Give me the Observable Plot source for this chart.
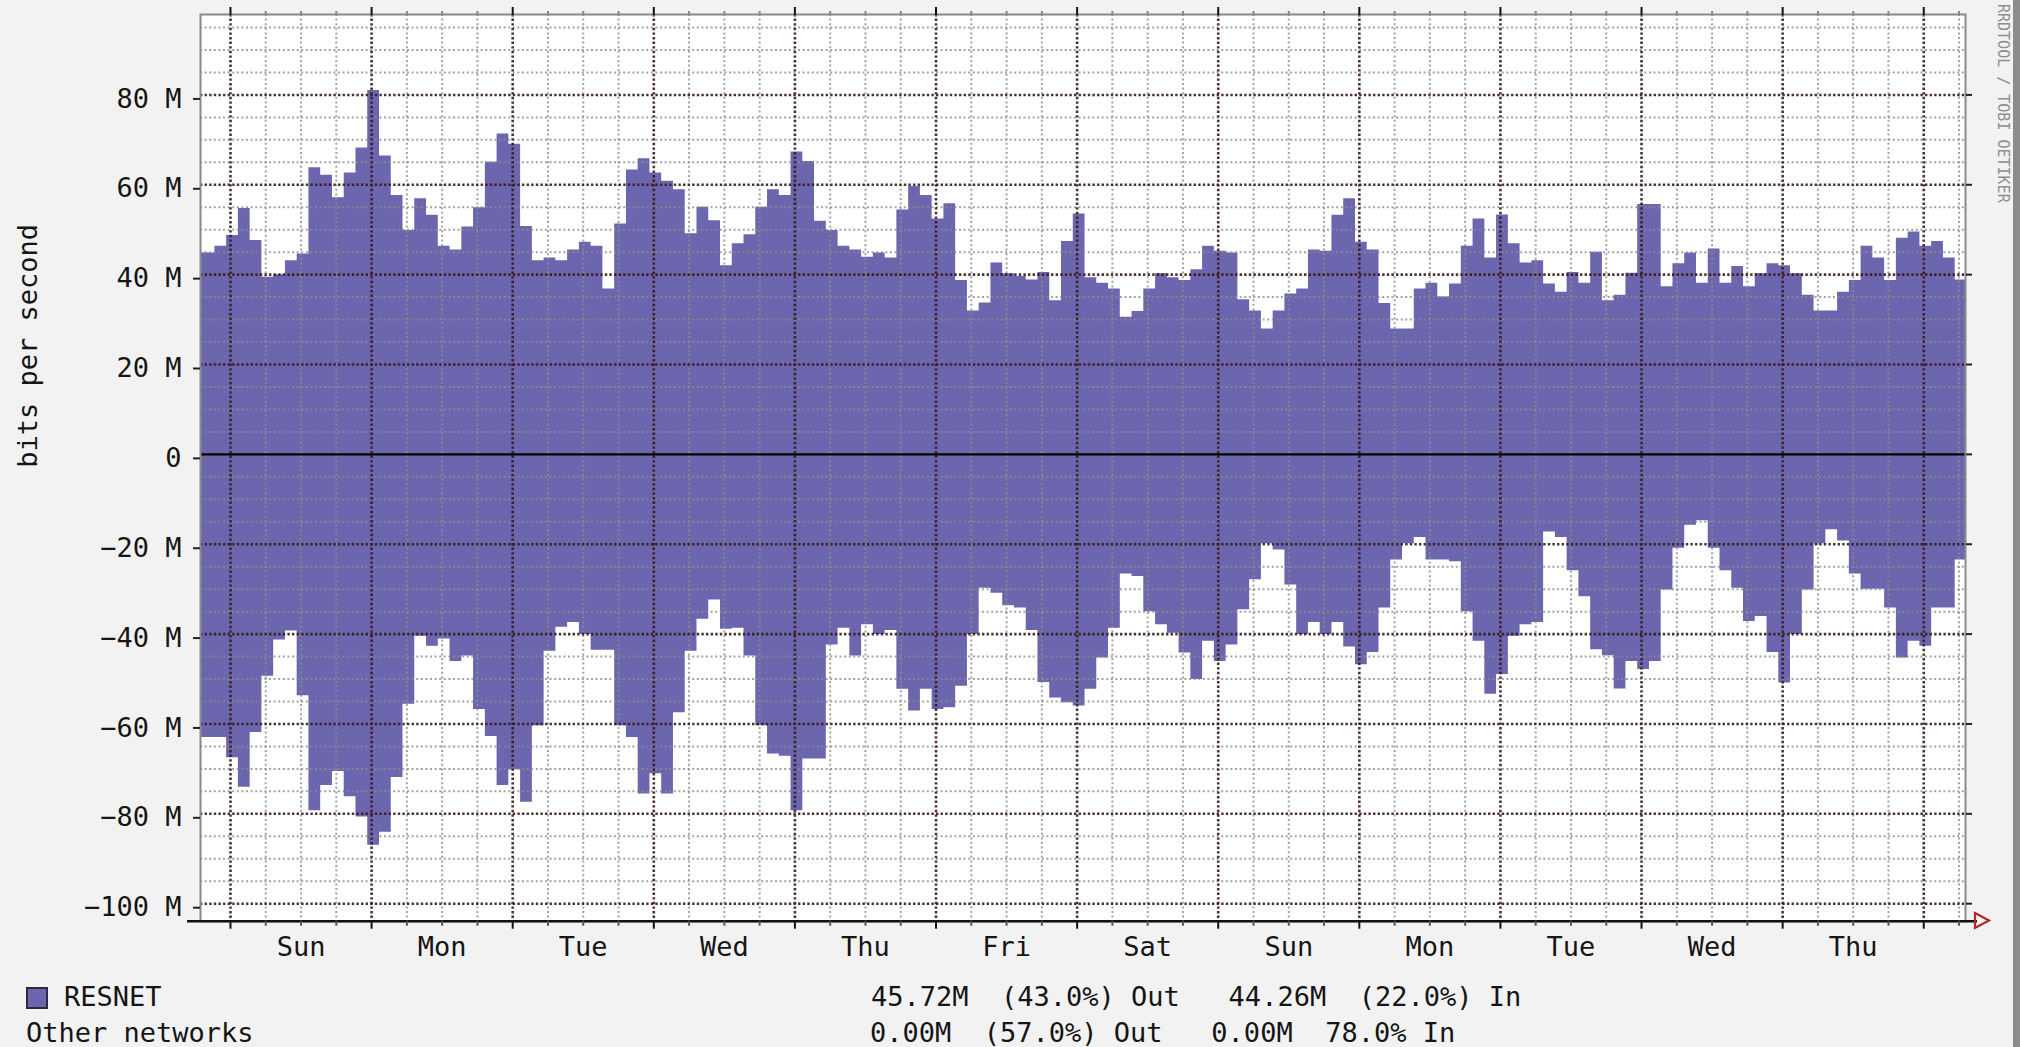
<!DOCTYPE html>
<html>
<head>
<meta charset="utf-8">
<script src="https://cdn.jsdelivr.net/npm/d3@7"></script>
<script src="https://cdn.jsdelivr.net/npm/@observablehq/plot@0.6"></script>
<style>
html, body { margin: 0; padding: 0; background: #f2f2f2; width: 2020px; height: 1047px; overflow: hidden; }
#wrap { position: relative; width: 2020px; height: 1047px; }
#chart { position: absolute; left: 0; top: 0; }
.mono { position: absolute; font-family: "DejaVu Sans Mono", monospace; font-size: 27px; line-height: 30px; color: #151515; white-space: pre; }
#swatch { position: absolute; left: 26px; top: 987px; width: 18px; height: 18px; border: 2px solid #2a2a40; background: #6b66ae; }
#wm { position: absolute; left: 1995px; top: 4px; writing-mode: vertical-rl; font-family: "DejaVu Sans Mono", monospace; font-size: 15px; line-height: 15px; color: #8e8e8e; white-space: pre; }
#strip { position: absolute; left: 2013px; top: 0; width: 7px; height: 1047px; background: #8c8c8c; }
#arrow { position: absolute; left: 1970px; top: 908px; }
</style>
</head>
<body>
<div id="wrap">
  <div id="chart"></div>
  <div id="swatch"></div>
  <div class="mono" style="left:64px; top:982px;">RESNET</div>
  <div class="mono" style="left:26px; top:1018px;">Other networks</div>
  <div class="mono" style="left:871px; top:982px;">45.72M  (43.0%) Out   44.26M  (22.0%) In</div>
  <div class="mono" style="left:870px; top:1018px;">0.00M  (57.0%) Out   0.00M  78.0% In</div>
  <div id="wm">RRDTOOL / TOBI OETIKER</div>
  <div id="strip"></div>
  <svg id="arrow" width="26" height="26"><polygon points="5,5 19,12.5 5,20" fill="none" stroke="#b52525" stroke-width="2.2"/></svg>
</div>
<script>
// ---- data (2-hour slots, values in Mbit/s) ----
const dayLabels = ["Sun", "Mon", "Tue", "Wed", "Thu", "Fri", "Sat", "Sun", "Mon", "Tue", "Wed", "Thu"];

const outValues = [
  44.8, 44.8, 46.3, 48.7, 54.7, 47.6, 39.4, 40.0, 43.1, 44.6,
  63.8, 62.1, 57.1, 62.6, 68.2, 81.0, 66.4, 57.6, 49.8, 56.9,
  53.2, 46.3, 45.5, 50.6, 54.9, 65.0, 71.3, 69.0, 50.7, 43.1,
  43.7, 43.1, 45.5, 47.2, 46.3, 36.8, 51.3, 63.3, 65.8, 62.6,
  60.8, 58.9, 49.1, 55.0, 52.0, 42.0, 46.9, 48.9, 55.0, 58.9,
  57.6, 67.3, 65.2, 51.9, 49.8, 46.3, 45.5, 43.9, 44.8, 43.7,
  54.4, 59.6, 57.6, 52.4, 55.8, 38.7, 31.9, 33.7, 42.6, 40.2,
  39.6, 38.8, 40.5, 34.2, 47.4, 53.5, 39.3, 38.1, 36.8, 30.5,
  31.8, 36.8, 40.2, 39.3, 38.7, 41.1, 46.3, 45.2, 44.8, 34.4,
  31.9, 27.9, 31.9, 35.7, 36.8, 45.5, 45.2, 53.2, 56.9, 47.2,
  45.5, 33.6, 27.9, 27.9, 36.8, 38.1, 35.0, 37.9, 46.3, 52.4,
  43.7, 53.3, 46.9, 42.6, 43.1, 37.9, 36.1, 40.5, 38.1, 45.0,
  34.2, 35.4, 40.3, 55.6, 55.6, 37.3, 42.4, 44.8, 38.1, 45.7,
  38.1, 41.8, 37.3, 40.2, 42.4, 42.0, 40.2, 35.4, 31.9, 31.9,
  36.1, 38.7, 46.3, 43.7, 38.7, 48.1, 49.5, 46.3, 47.4, 43.7,
  38.8
];

const inValues = [
  -63.0, -63.0, -63.0, -67.5, -74.1, -61.9, -49.4, -41.3, -39.3, -53.7,
  -79.3, -73.7, -70.6, -76.2, -80.7, -87.0, -84.1, -71.9, -55.6, -40.5,
  -42.7, -41.1, -46.1, -44.9, -56.8, -62.8, -73.7, -70.2, -77.4, -60.4,
  -43.8, -38.5, -37.4, -40.1, -43.6, -43.6, -60.4, -63.0, -75.6, -71.1,
  -75.6, -57.5, -43.8, -36.7, -32.4, -38.9, -38.7, -44.9, -60.4, -66.7,
  -67.2, -79.3, -67.8, -67.8, -42.4, -38.7, -44.9, -37.9, -40.1, -39.2,
  -52.3, -57.1, -52.3, -56.8, -56.4, -51.6, -40.1, -29.8, -30.9, -33.7,
  -34.2, -39.2, -50.8, -54.2, -55.3, -56.0, -52.3, -45.3, -38.7, -26.6,
  -27.2, -35.0, -37.9, -39.8, -44.2, -50.1, -41.6, -46.1, -42.4, -34.6,
  -27.9, -19.9, -21.3, -29.1, -40.1, -37.4, -40.1, -37.4, -42.9, -46.8,
  -44.1, -34.2, -23.5, -19.9, -18.5, -23.5, -23.5, -23.9, -35.0, -41.6,
  -53.4, -49.0, -40.5, -37.9, -37.4, -17.3, -18.5, -25.9, -31.7, -43.5,
  -44.8, -52.2, -46.1, -47.9, -46.1, -30.2, -20.9, -15.8, -14.8, -20.9,
  -25.9, -29.8, -37.2, -36.1, -44.1, -50.9, -40.1, -30.2, -19.9, -16.8,
  -19.3, -26.6, -30.0, -30.0, -34.2, -45.3, -41.6, -42.7, -34.2, -34.2,
  -23.5
];

const yTicks = [-100, -80, -60, -40, -20, 0, 20, 40, 60, 80];
const yTickLabels = ["\u2212100 M", "\u221280 M", "\u221260 M", "\u221240 M", "\u221220 M", "0", "20 M", "40 M", "60 M", "80 M"];

// time axis in hours from the first Sunday 00:00
const slotStart = -6.656;
const slotHours = 2;
const xDomain = [-5.1, 295.1];
const yDomain = [-103.9, 97.9];

// ---- derived tables ----
const rows = outValues.map((v, i) => ({x: slotStart + slotHours * i, out: v, inn: inValues[i]}));
rows.push({x: slotStart + slotHours * outValues.length, out: outValues[outValues.length - 1], inn: inValues[inValues.length - 1]});

const dayLines = d3.range(0, xDomain[1], 24);
const minorX = d3.range(0, xDomain[1], 6).filter(h => h % 24 !== 0);
const labelHours = dayLabels.map((_, i) => 12 + 24 * i);
const dayLabelOf = new Map(labelHours.map((h, i) => [h, dayLabels[i]]));
const yLabelOf = new Map(yTicks.map((t, i) => [t, yTickLabels[i]]));
const minorY = d3.range(-100, 96, 5).filter(v => v % 20 !== 0);

const purple = "#6b66ae";
const minorStyle = {stroke: "#8c8c8c", strokeWidth: 2, strokeDasharray: "2,2.6", strokeOpacity: 0.8};
const majorStyle = {stroke: "#3a1c1c", strokeWidth: 2.6, strokeDasharray: "2.4,2.2", strokeOpacity: 0.9};
const blank = () => "";

const H = 965;
const chart = Plot.plot({
  width: 2020,
  height: H,
  marginLeft: 200,
  marginRight: 55,
  marginTop: 14,
  marginBottom: H - 920.7,
  style: {background: "transparent", fontFamily: "\"DejaVu Sans Mono\", monospace", fontSize: "27px", color: "#151515", overflow: "visible"},
  x: {domain: xDomain, axis: null},
  y: {domain: yDomain, axis: null},
  marks: [
    Plot.frame({fill: "#ffffff", stroke: null}),
    Plot.areaY(rows, {x: "x", y: "out", curve: "step-after", fill: purple, clip: true}),
    Plot.areaY(rows, {x: "x", y: "inn", curve: "step-after", fill: purple, clip: true}),
    Plot.ruleY(minorY, minorStyle),
    Plot.ruleX(minorX, minorStyle),
    Plot.ruleY(yTicks.filter(t => t !== 0), majorStyle),
    Plot.ruleX(dayLines, majorStyle),
    Plot.ruleY([0], {stroke: "#000", strokeWidth: 2.2}),
    Plot.frame({stroke: "#8a8a8a", strokeWidth: 2}),
    Plot.ruleY([yDomain[0]], {stroke: "#111", strokeWidth: 2.6, insetLeft: -13, insetRight: -12}),
    // y axis
    Plot.axisY(yTicks, {anchor: "left", label: null, tickSize: 7, tickPadding: 12, tickFormat: d => yLabelOf.get(d), stroke: "#222", strokeWidth: 2, fill: "#151515", fontSize: 27, dy: 4}),
    Plot.axisY(yTicks, {anchor: "right", label: null, tickSize: 6, tickFormat: blank, stroke: "#222", strokeWidth: 2}),
    // x axis
    Plot.axisX(labelHours, {anchor: "bottom", label: null, tickSize: 0, tickPadding: 16, tickFormat: d => dayLabelOf.get(d), fill: "#151515", fontSize: 27}),
    Plot.axisX(dayLines, {anchor: "bottom", label: null, tickSize: 8, tickFormat: blank, stroke: "#111", strokeWidth: 2}),
    Plot.axisX(minorX, {anchor: "bottom", label: null, tickSize: 5, tickFormat: blank, stroke: "#555", strokeWidth: 2}),
    Plot.axisX(dayLines, {anchor: "top", label: null, tickSize: 8, tickFormat: blank, stroke: "#111", strokeWidth: 2}),
    Plot.axisX(minorX, {anchor: "top", label: null, tickSize: 4, tickFormat: blank, stroke: "#888", strokeWidth: 2}),
    Plot.text(["bits per second"], {text: d => d, frameAnchor: "left", rotate: -90, dx: -172, fontSize: 27, fill: "#151515"})
  ]
});
document.getElementById("chart").appendChild(chart);
</script>
</body>
</html>
